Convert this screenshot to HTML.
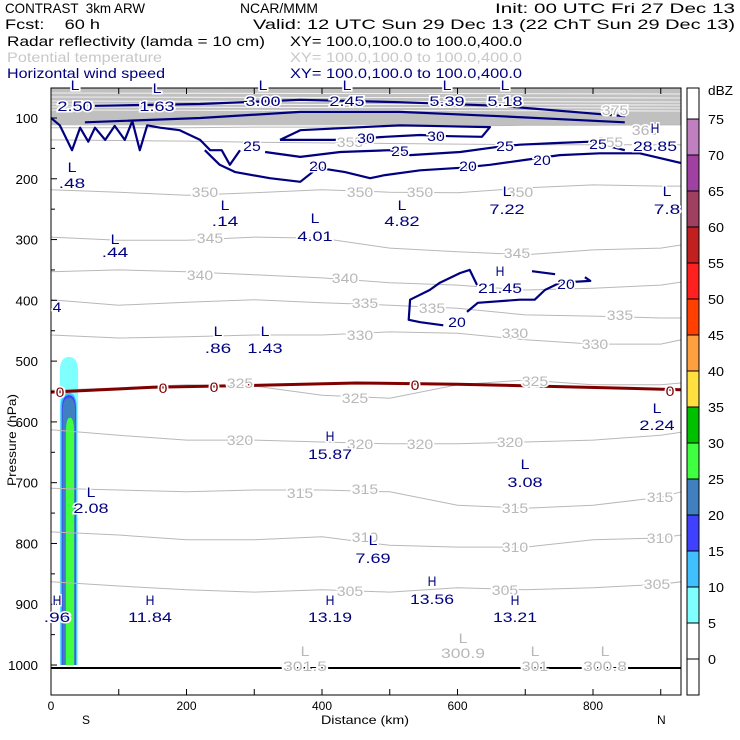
<!DOCTYPE html>
<html><head><meta charset="utf-8"><style>
html,body{margin:0;padding:0;background:#fff}
svg{display:block;font-family:"Liberation Sans",sans-serif}
</style></head><body>
<svg id="c" width="740" height="740" xmlns="http://www.w3.org/2000/svg">
<g font-size="14" lengthAdjust="spacingAndGlyphs">
<text x="5" y="13" textLength="140" lengthAdjust="spacingAndGlyphs" xml:space="preserve">CONTRAST  3km ARW</text>
<text x="240" y="13" textLength="78" lengthAdjust="spacingAndGlyphs">NCAR/MMM</text>
<text x="495" y="13" textLength="240" lengthAdjust="spacingAndGlyphs">Init: 00 UTC Fri 27 Dec 13</text>
<text x="5" y="29" textLength="95" lengthAdjust="spacingAndGlyphs" xml:space="preserve">Fcst:    60 h</text>
<text x="253" y="29" textLength="482" lengthAdjust="spacingAndGlyphs">Valid: 12 UTC Sun 29 Dec 13 (22 ChT Sun 29 Dec 13)</text>
<text x="7" y="46" textLength="258" lengthAdjust="spacingAndGlyphs">Radar reflectivity (lamda = 10 cm)</text>
<text x="290" y="46" textLength="232" lengthAdjust="spacingAndGlyphs">XY= 100.0,100.0 to 100.0,400.0</text>
<text x="7" y="62" textLength="155" lengthAdjust="spacingAndGlyphs" fill="#c8c8c8">Potential temperature</text>
<text x="290" y="62" textLength="232" lengthAdjust="spacingAndGlyphs" fill="#c8c8c8">XY= 100.0,100.0 to 100.0,400.0</text>
<text x="7" y="78" textLength="158" lengthAdjust="spacingAndGlyphs" fill="#000080">Horizontal wind speed</text>
<text x="290" y="78" textLength="232" lengthAdjust="spacingAndGlyphs" fill="#000080">XY= 100.0,100.0 to 100.0,400.0</text>
</g>
<g id="plot"></g>
<g id="ann" font-size="14"></g>
</svg>
<script>
const kmGrid=[0,100,200,300,400,500,600,700,800,900,930];
const thetaLevels=[350,345,340,335,330,325,320,315,310,305];
const thetaP=[
[218,222,227,223,218,222,223,215,210,212,212],
[296,301,301,296,298,314,320,325,317,314,309],
[353,350,353,358,363,371,375,383,380,375,370],
[399,408,403,399,404,408,413,424,426,429,429],
[457,462,460,457,457,452,454,465,472,472,465],
[548,544,539,541,556,561,539,531,539,539,536],
[613,622,630,630,633,636,636,633,630,622,617],
[709,712,715,712,712,715,737,742,737,724,715],
[781,786,794,794,789,803,806,806,794,791,786],
[863,870,876,880,876,880,873,876,873,867,863]];
const upperThetaP=[[116,116,116,115,115,114,113,112,112,111,111],[136,137,138,140,141,142,143,144,144,144,144]];
const freezeKm=[0,150,300,450,600,750,930];
const freezeP=[551,543,540,536,538,542,547];
const wind30=[[338,136],[368,120],[515,112],[648,115],[636,131],[589,130],[545,128],[493,131],[434,136],[338,136]];
const wind25=[[0,100],[13,112],[31,153],[43,116],[55,139],[65,116],[80,136],[94,113],[109,136],[120,105],[131,153],[142,112],[161,116],[190,120],[220,136],[235,153],[252,153],[264,177],[279,153]];
const wind25b=[[316,156],[368,164],[427,156],[500,153],[530,161],[604,156],[656,148],[692,144],[751,141],[796,139],[847,153]];
const wind20=[[227,153],[249,177],[272,189],[323,199],[368,205],[394,182],[434,189],[471,199],[493,194],[545,186],[604,182],[648,177],[700,169],[751,161],[810,158],[869,158],[930,174]];
const jetA=[[65,80],[220,77],[368,70],[515,74],[662,80],[847,97]];
const jetB=[[50,107],[220,100],[368,90],[515,90],[662,97],[847,107]];
const low20a=[[579,441],[545,436],[528,432],[530,399],[559,383],[574,371],[604,355],[618,350],[629,375]];
const low20b=[[614,419],[630,404],[692,399],[714,399],[729,383],[751,371],[796,368],[788,362]];
const low20c=[[710,352],[744,357]];
const dbzBands=[0,5,10,15,20,25,30,35,40,45,50,55,60,65,70,75];
const dbzColors=['#fff','#fff','#80ffff','#40c0ff','#4040ff','#4080c0','#40ff40','#00c000','#ffe040','#ffa040','#ff4000','#ff2020','#c02020','#a04060','#a040a0','#c080c0','#fff'];
const reflKm=[[13,40],[14,38],[16,37],[17,36],[22,34]];
const reflTop=[493,552,556,560,593];
const reflCols=['#80ffff','#40c0ff','#4040ff','#4080c0','#40ff40'];

const NS='http://www.w3.org/2000/svg';
const X=k=>51+k*0.6775, Y=p=>118+(p-100)*0.6078;
const plot=document.getElementById('plot');
function mk(t,a,parent){const e=document.createElementNS(NS,t);for(const k in a)e.setAttribute(k,a[k]);(parent||plot).appendChild(e);return e;}
function pl(pts){return pts.map(q=>X(q[0]).toFixed(1)+','+Y(q[1]).toFixed(1)).join(' ');}

const defs=mk('defs',{});const cp=mk('clipPath',{id:'clp'},defs);mk('rect',{x:51,y:88,width:630,height:607},cp);
const g=mk('g',{'clip-path':'url(#clp)'});
let e=mk('rect',{x:51,y:88,width:630,height:Y(112)-88,fill:'#c0c0c0'},g);

[93,97,101,104,107,110].forEach(yv=>{mk('line',{x1:51,x2:681,y1:yv,y2:yv+1,stroke:'#fff','stroke-width':0.8},g);});
reflCols.forEach((c,i)=>{const k=reflKm[i],t=reflTop[i];
 const el=mk('path',{d:`M${X(k[0])},${Y(1000)} L${X(k[0])},${Y(t+25)} Q${X(k[0])},${Y(t)} ${X((k[0]+k[1])/2)},${Y(t)} Q${X(k[1])},${Y(t)} ${X(k[1])},${Y(t+25)} L${X(k[1])},${Y(1000)} Z`,fill:c},g);
 });
thetaP.forEach((row,i)=>{const el=mk('polyline',{points:pl(kmGrid.map((k,j)=>[k,row[j]])),fill:'none',stroke:'#b8b8b8','stroke-width':1},g);
 });
upperThetaP.forEach(row=>{const el=mk('polyline',{points:pl(kmGrid.map((k,j)=>[k,row[j]])),fill:'none',stroke:'#b8b8b8','stroke-width':1},g);
 });
e=mk('polyline',{points:pl(freezeKm.map((k,j)=>[k,freezeP[j]])),fill:'none',stroke:'#800000','stroke-width':3},g);

[wind30,wind25,wind25b,wind20,jetA,jetB,low20a,low20b,low20c].forEach(w=>{const el=mk('polyline',{points:pl(w),fill:'none',stroke:'#000080','stroke-width':2.2,'stroke-linejoin':'round'},g);
 });
e=mk('line',{x1:51,x2:681,y1:668,y2:668,stroke:'#000','stroke-width':2});

e=mk('rect',{x:51,y:88,width:630,height:607,fill:'none',stroke:'#000','stroke-width':1});

for(let p=100;p<=1000;p+=50){mk('line',{x1:51,x2:p%100?55:57,y1:Y(p),y2:Y(p),stroke:'#000'});
 if(p%100===0){const t=mk('text',{x:38,y:Y(p)+5,'text-anchor':'end','font-size':13,textLength:String(p).length*7.5,lengthAdjust:'spacingAndGlyphs'});t.textContent=p;
 }}
for(let k=0;k<=900;k+=100){mk('line',{x1:X(k),x2:X(k),y1:88,y2:94,stroke:'#000'});mk('line',{x1:X(k),x2:X(k),y1:695,y2:689,stroke:'#000'});
 if(k%200===0){const t=mk('text',{x:X(k),y:710,'text-anchor':'middle','font-size':12});t.textContent=k;
 }}
const cb=mk('g',{});
dbzColors.forEach((c,i)=>{const y0=695-36*(i+1),y1=695-36*i;const top=Math.max(y0,88);
 mk('rect',{x:687,y:top,width:12,height:y1-top,fill:c,stroke:'#000','stroke-width':1},cb);});
dbzBands.forEach((v,i)=>{const t=mk('text',{x:708,y:695-36*(i+1)+5,'font-size':13,textLength:String(v).length*8,lengthAdjust:'spacingAndGlyphs'},cb);t.textContent=v;
 });
let t=mk('text',{x:708,y:95,'font-size':13,textLength:25,lengthAdjust:'spacingAndGlyphs'},cb);t.textContent='dBZ';

const ann=document.getElementById('ann');
function tx(x,y,s,c,n){const el=mk('text',{x,y,fill:c,'text-anchor':'middle',stroke:'#fff','stroke-width':3,'paint-order':'stroke',textLength:s.length*8.8,lengthAdjust:'spacingAndGlyphs'},ann);el.textContent=s;
 }
const thetaLabels=[[205,197,'350'],[360,197,'350'],[420,197,'350'],[520,197,'350'],[210,243,'345'],[517,258,'345'],[200,280,'340'],[345,283,'340'],[365,308,'335'],[432,313,'335'],[620,320,'335'],[360,340,'330'],[515,338,'330'],[595,349,'330'],[240,388,'325'],[355,403,'325'],[535,386,'325'],[240,445,'320'],[360,449,'320'],[420,449,'320'],[510,447,'320'],[300,498,'315'],[365,494,'315'],[515,513,'315'],[660,502,'315'],[365,542,'310'],[515,552,'310'],[660,543,'310'],[350,596,'305'],[505,595,'305'],[657,589,'305'],[615,115,'375'],[645,135,'360'],[350,147,'355'],[610,147,'355']];
thetaLabels.forEach(l=>tx(l[0],l[1],l[2],'#b8b8b8','theta-label'));
const windLabels=[[366,143,'30'],[436,141,'30'],[252,151,'25'],[400,156,'25'],[505,151,'25'],[598,149,'25'],[318,171,'20'],[468,171,'20'],[542,165,'20'],[457,327,'20'],[566,289,'20']];
windLabels.forEach(l=>tx(l[0],l[1],l[2],'#000080','wind-label'));
[[60,397],[163,393],[214,392],[415,390],[670,396]].forEach(l=>tx(l[0],l[1],'0','#800000','freezing-label'));
const hl=[['L','2.50',75,90,111],['L','1.63',157,93,111],['L','3.00',263,90,106],['L','2.45',347,90,106],['L','5.39',447,90,106],['L','5.18',505,90,106],
['L','.48',72,172,188],['L','.14',225,210,226],['L','4.01',315,223,241],['L','4.82',402,210,226],['L','7.22',507,196,214],['L','7.8',667,196,214],['L','.44',115,244,257],['H','21.45',500,276,293],['L','.86',218,336,353],['L','1.43',265,336,353],['L','2.24',657,413,430],['H','15.87',330,441,459],['L','3.08',525,469,487],['L','2.08',91,497,513],['L','7.69',373,545,563],['H','13.56',432,586,604],['H','11.84',150,605,622],['H','13.19',330,605,622],['H','13.21',515,605,622],['H','.96',57,605,622],['H','28.85',655,133,151]];
hl.forEach(h=>{tx(h[2],h[3],h[0],'#000080','extremum-marker');tx(h[2],h[4],h[1],'#000080','extremum-value');});
tx(57,312,'4','#000080','extremum-value');
[['301.5',305,656,671],['300.9',463,643,658],['301',535,656,671],['300.8',605,656,671]].forEach(h=>{tx(h[1],h[2],'L','#b8b8b8','theta-min-marker');tx(h[1],h[3],h[0],'#b8b8b8','theta-min-value');});
function plain(s,n,a){const el=mk('text',a,ann);el.textContent=s;return el;}
plain('S','x-axis-south',{x:82,y:724,'font-size':12});
plain('N','x-axis-north',{x:657,y:724,'font-size':12});
plain('Distance (km)','x-axis-title',{x:365,y:724,'font-size':12,'text-anchor':'middle',textLength:88,lengthAdjust:'spacingAndGlyphs'});
plain('Pressure (hPa)','y-axis-title',{x:0,y:0,'font-size':12,'text-anchor':'middle',transform:'translate(16,440) rotate(-90)',textLength:92,lengthAdjust:'spacingAndGlyphs'});
</script>
</body></html>
